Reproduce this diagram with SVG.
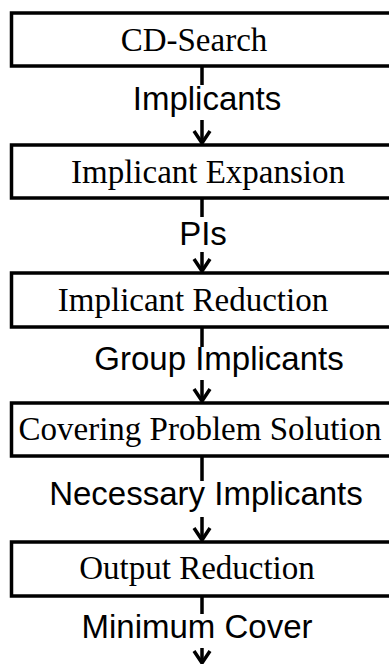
<svg xmlns="http://www.w3.org/2000/svg" width="389" height="664" viewBox="0 0 389 664">
<style>
.box{fill:#fff;stroke:#000;stroke-width:3.5}
.t{font-family:"Liberation Serif","Times New Roman",serif;font-size:33px;fill:#000;text-anchor:middle}
.l{font-family:"Liberation Sans",Arial,sans-serif;font-size:33px;fill:#000;text-anchor:middle}
.c{fill:none;stroke:#000;stroke-width:3.5}
.a{fill:none;stroke:#000;stroke-width:3.5;stroke-linejoin:miter}
</style>
<rect width="389" height="664" fill="#fff"/>
<g id="connectors">
<path class="c" d="M202,66 V85 M202,120 V143"/>
<path class="a" d="M194,131 L202,143 L210,131"/>
<path class="c" d="M202,198 V217 M202,252 V271"/>
<path class="a" d="M194,259 L202,271 L210,259"/>
<path class="c" d="M202,327 V347 M202,380 V401"/>
<path class="a" d="M194,389 L202,401 L210,389"/>
<path class="c" d="M202,456 V481 M202,517 V540"/>
<path class="a" d="M194,528 L202,540 L210,528"/>
<path class="c" d="M202,596 V614 M202,648 V663"/>
<path class="a" d="M194,651 L202,663 L210,651"/>
</g>
<g id="labels">
<text class="l" x="207" y="110">Implicants</text>
<text class="l" x="203" y="245">PIs</text>
<text class="l" x="219" y="370">Group Implicants</text>
<text class="l" x="206" y="505">Necessary Implicants</text>
<text class="l" x="197" y="638">Minimum Cover</text>
</g>
<g id="n1"><rect class="box" x="11.5" y="13" width="390" height="53"/><text class="t" x="194" y="51">CD-Search</text></g>
<g id="n2"><rect class="box" x="11.5" y="145" width="390" height="53"/><text class="t" x="208" y="183">Implicant Expansion</text></g>
<g id="n3"><rect class="box" x="11.5" y="273" width="390" height="54"/><text class="t" x="193" y="311">Implicant Reduction</text></g>
<g id="n4"><rect class="box" x="11.5" y="403" width="390" height="53"/><text class="t" x="200" y="440">Covering Problem Solution</text></g>
<g id="n5"><rect class="box" x="11.5" y="542" width="390" height="54"/><text class="t" x="197" y="579">Output Reduction</text></g>
</svg>
